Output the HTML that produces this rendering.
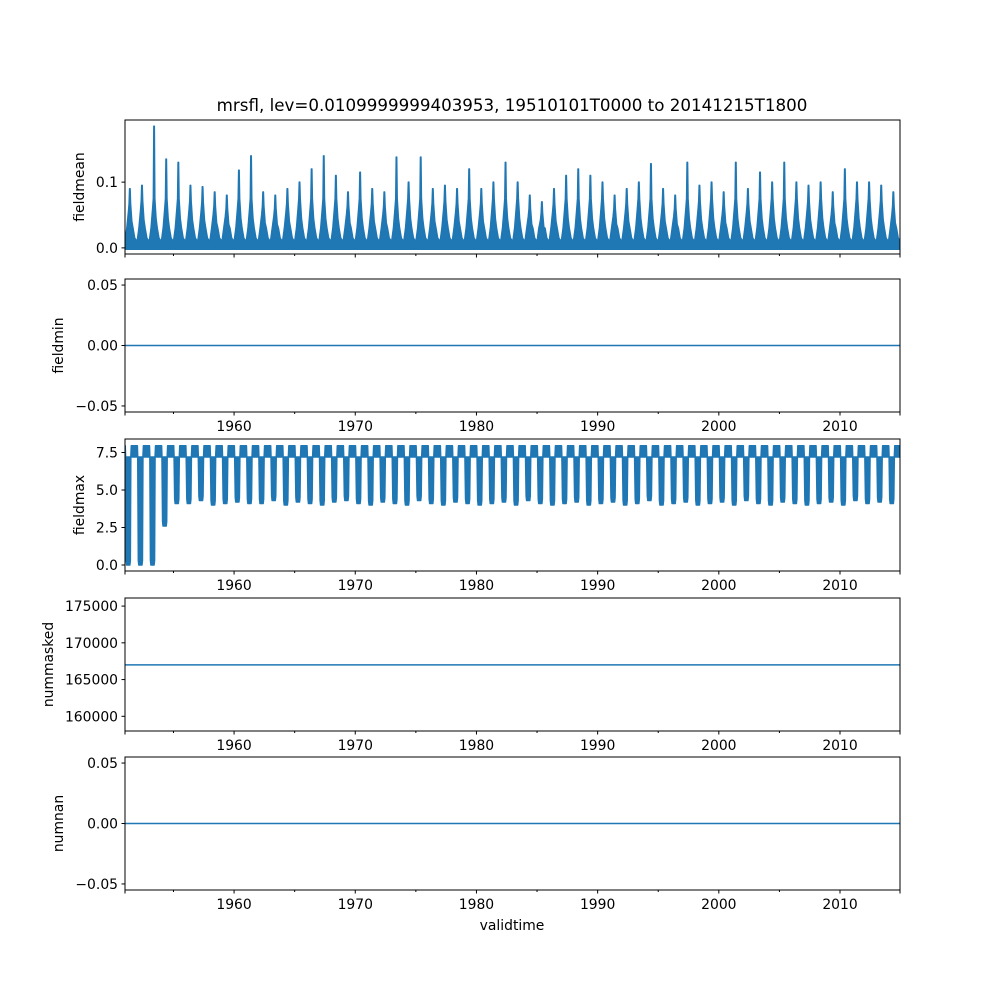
<!DOCTYPE html>
<html><head><meta charset="utf-8"><style>
body{margin:0;background:#fff}
svg{font-family:"DejaVu Sans","Liberation Sans",sans-serif}
</style></head><body>
<svg id="fig" width="1000" height="1000"></svg>
<script>
const years=[];for(let y=1951;y<=2014;y++)years.push(y);
const meanPeaks=[0.09,0.095,0.185,0.135,0.13,0.095,0.093,0.085,0.08,0.118,0.14,0.085,0.08,0.09,0.1,0.12,0.14,0.11,0.085,0.115,0.09,0.085,0.138,0.1,0.138,0.09,0.095,0.09,0.12,0.09,0.1,0.13,0.1,0.08,0.07,0.09,0.11,0.12,0.11,0.1,0.08,0.09,0.1,0.128,0.09,0.08,0.13,0.095,0.1,0.085,0.13,0.09,0.115,0.1,0.13,0.1,0.095,0.1,0.085,0.12,0.1,0.1,0.095,0.085];
const maxMins=[0,0,0,2.6,4.1,4.1,4.3,4.0,4.1,4.2,4.1,4.1,4.3,4.0,4.2,4.1,4.0,4.2,4.3,4.1,4.0,4.2,4.1,4.0,4.3,4.1,4.0,4.2,4.1,4.0,4.1,4.2,4.0,4.3,4.1,4.0,4.1,4.2,4.0,4.1,4.2,4.0,4.1,4.3,4.0,4.1,4.2,4.0,4.1,4.2,4.0,4.3,4.1,4.0,4.2,4.1,4.0,4.1,4.2,4.0,4.3,4.1,4.2,4.1];
const xTicks=[1960,1970,1980,1990,2000,2010];
const t0=1951.0,t1=2014.95,L=125,R=900;
const X=t=>L+(t-t0)/(t1-t0)*(R-L);
const svg=document.getElementById('fig');const NS='http://www.w3.org/2000/svg';
function mk(tag,attrs,parent){const e=document.createElementNS(NS,tag);for(const k in attrs)e.setAttribute(k,attrs[k]);(parent||svg).appendChild(e);return e;}
const C='#1f77b4';
const panels=[
 {name:'fieldmean',top:120,bot:254,ymin:-0.0093,ymax:0.1945,ticks:[0,0.1],lab:['0.0','0.1']},
 {name:'fieldmin',top:279,bot:412,ymin:-0.055,ymax:0.055,ticks:[-0.05,0,0.05],lab:['−0.05','0.00','0.05']},
 {name:'fieldmax',top:439,bot:571,ymin:-0.4,ymax:8.4,ticks:[0,2.5,5,7.5],lab:['0.0','2.5','5.0','7.5']},
 {name:'nummasked',top:598,bot:731,ymin:158000,ymax:176100,ticks:[160000,165000,170000,175000],lab:['160000','165000','170000','175000']},
 {name:'numnan',top:757,bot:890,ymin:-0.055,ymax:0.055,ticks:[-0.05,0,0.05],lab:['−0.05','0.00','0.05']}
];
const t=mk('text',{x:512,y:111,'text-anchor':'middle','font-size':16.7});t.textContent='mrsfl, lev=0.0109999999403953, 19510101T0000 to 20141215T1800';

panels.forEach((p,i)=>{
 const g=mk('g',{});
 const Y=v=>p.bot-(v-p.ymin)/(p.ymax-p.ymin)*(p.bot-p.top);
 const cp=mk('clipPath',{id:'c'+i},g);mk('rect',{x:L,y:p.top,width:R-L,height:p.bot-p.top},cp);
 const dg=mk('g',{'clip-path':'url(#c'+i+')'},g);
 if(p.name==='fieldmean'){
  let d='M'+X(t0)+','+Y(0.01);
  years.forEach((yr,k)=>{const pk=meanPeaks[k];const m=Math.min(pk*0.75,0.075);
   d+=' L'+X(yr+0.02)+','+Y(0.012)+' L'+X(yr+0.15)+','+Y(0.03)+' L'+X(yr+0.28)+','+Y(m*0.8)+' L'+X(yr+0.34)+','+Y(m)+' L'+X(yr+0.38)+','+Y(pk)+' L'+X(yr+0.42)+','+Y(pk)+' L'+X(yr+0.46)+','+Y(m)+' L'+X(yr+0.56)+','+Y(m*0.6)+' L'+X(yr+0.66)+','+Y(0.03)+' L'+X(yr+0.8)+','+Y(0.015)+' L'+X(yr+0.98)+','+Y(0.01);});
  d+=' L'+X(t1)+','+Y(0.01)+' L'+X(t1)+','+Y(-0.002)+' L'+X(t0)+','+Y(-0.002)+'Z';
  const s=mk('path',{d:d,fill:C,stroke:C,'stroke-width':1.5,'stroke-linejoin':'round'},dg);
 } else if(p.name==='fieldmax'){
  let d='M'+X(t0)+','+Y(7.95);
  years.forEach((yr,k)=>{const m=maxMins[k];
   d+=' L'+X(yr+0.02)+','+Y(7.95)+' L'+X(yr+0.05)+','+Y(7.2)+' L'+X(yr+0.1)+','+Y(m+0.3)+' L'+X(yr+0.14)+','+Y(m)+' L'+X(yr+0.4)+','+Y(m)+' L'+X(yr+0.44)+','+Y(m+0.3)+' L'+X(yr+0.48)+','+Y(7.2)+' L'+X(yr+0.52)+','+Y(7.95)+' L'+X(yr+0.98)+','+Y(7.95);});
  d+=' L'+X(t1)+','+Y(7.95)+' L'+X(t1)+','+Y(7.2)+' L'+X(t0)+','+Y(7.2)+'Z';
  const s=mk('path',{d:d,fill:C,stroke:C,'stroke-width':1.5,'stroke-linejoin':'round'},dg);
 } else {
  const v=p.name==='nummasked'?167000:0;
  const s=mk('line',{x1:L,x2:R,y1:Y(v),y2:Y(v),stroke:C,'stroke-width':1.5},dg);
 }
 const fr=mk('rect',{x:L,y:p.top,width:R-L,height:p.bot-p.top,fill:'none',stroke:'#000','stroke-width':1},g);
 
 p.ticks.forEach((v,k)=>{mk('line',{x1:L-3.5,x2:L,y1:Y(v),y2:Y(v),stroke:'#000'},g);
  const tx=mk('text',{x:L-7,y:Y(v)+5,'text-anchor':'end','font-size':13.9},g);tx.textContent=p.lab[k];
  });
 for(let yr=1955;yr<=2010;yr+=5){const mj=yr%10===0;mk('line',{x1:X(yr),x2:X(yr),y1:p.bot,y2:p.bot+(mj?3.5:2),stroke:'#000'},g);}
 mk('line',{x1:L,x2:L,y1:p.bot,y2:p.bot+3.5,stroke:'#000'},g);mk('line',{x1:R,x2:R,y1:p.bot,y2:p.bot+3.5,stroke:'#000'},g);
 if(i>0)xTicks.forEach(yr=>{const tx=mk('text',{x:X(yr),y:p.bot+19,'text-anchor':'middle','font-size':13.9},g);tx.textContent=yr;
  });
 const lx=p.name==='nummasked'?53:(p.name==='fieldmean'||p.name==='fieldmax'?84:63);
 const yl=mk('text',{x:lx,y:(p.top+p.bot)/2,'text-anchor':'middle','font-size':13.9,transform:'rotate(-90 '+lx+' '+(p.top+p.bot)/2+')'},g);
 yl.textContent=p.name;
});
const xl=mk('text',{x:512,y:930,'text-anchor':'middle','font-size':13.9});xl.textContent='validtime';

</script>
</body></html>
